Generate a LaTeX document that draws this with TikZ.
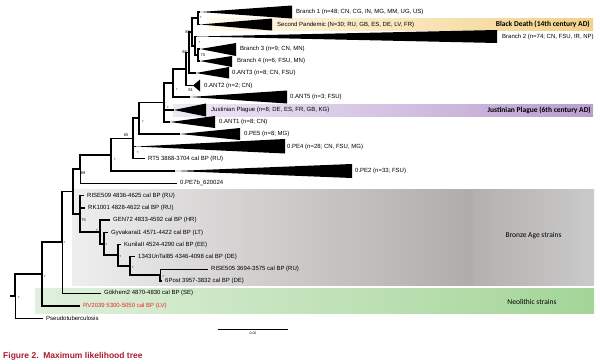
\documentclass[tikz,border=0pt]{standalone}
\usepackage{fontspec}
\setmainfont{Liberation Sans}
\newfontfamily\calibri{Carlito}
\usetikzlibrary{positioning}
\definecolor{bdL}{RGB}{255,250,236}
\definecolor{bdR}{RGB}{242,210,138}
\definecolor{jpL}{RGB}{238,232,245}
\definecolor{jpR}{RGB}{186,158,208}
\definecolor{baL}{RGB}{238,238,238}
\definecolor{baM}{RGB}{176,172,170}
\definecolor{baR}{RGB}{202,202,202}
\definecolor{neL}{RGB}{224,240,220}
\definecolor{neR}{RGB}{164,213,152}
\definecolor{rvred}{RGB}{232,40,40}
\definecolor{figred}{RGB}{170,28,44}
\tikzset{
  br/.style={line width=1.6pt},
  thinbr/.style={line width=0.9pt},
  tip/.style={anchor=west,inner xsep=3pt,inner ysep=0pt,font=\fontsize{6}{7}\selectfont},
  supp/.style={inner sep=0pt,font=\fontsize{4}{4}\selectfont},
  bandlbl/.style={inner sep=0pt,font=\calibri\fontsize{7.5}{8}\selectfont}
}
\newcommand\clade[4]{\fill (#1) -- (#2,#3) -- (#2,#4) -- cycle;}

\begin{document}
\begin{tikzpicture}[x=1pt,y=-1pt]
\useasboundingbox (0,0) rectangle (600,364);
\shade[left color=bdL,right color=bdR] (207,18.5) rectangle (593,30.5);
\shade[left color=jpL,right color=jpR] (173,104) rectangle (593,116);
\shade[left color=baL,right color=baM] (72,189) rectangle (473,285);
\shade[left color=baM!95!white,right color=baR] (473,189) rectangle (594,285);
\shade[left color=neL,right color=neR] (35,288) rectangle (594,313);
\node[bandlbl,anchor=east,font=\calibri\bfseries\fontsize{7.5}{8}\selectfont] (bd) at (590,24.5) {Black Death (14th century AD)};
\node[bandlbl,anchor=east,font=\calibri\bfseries\fontsize{7.5}{8}\selectfont] (jp) at (591,110) {Justinian Plague (6th century AD)};
\node[bandlbl] (ba) at (533.5,236) {Bronze Age strains};
\node[bandlbl] (ne) at (532,301.5) {Neolithic strains};

\coordinate (aB1) at (200,12);
\coordinate (aSP) at (200,24.5);
\coordinate (aB2) at (197,36.5);
\coordinate (aB3) at (200,49);
\coordinate (aB4) at (200,61);
\coordinate (aANT3) at (196,73);
\coordinate (aANT2) at (193,85.5);
\coordinate (aANT5) at (190,97);
\coordinate (aJust) at (174,110);
\coordinate (aANT1) at (170,122);
\coordinate (aPE5) at (180,134);
\coordinate (aPE4) at (136,146.5);
\coordinate (aPE2) at (175,171);

\clade{aB1}{292}{5.5}{18.5}
\clade{aSP}{272}{18.5}{30.5}
\clade{aB2}{497}{30}{43}
\clade{aB3}{236}{43}{56}
\clade{aB4}{232}{56}{67}
\clade{aANT3}{229}{67}{78.5}
\clade{aANT2}{200}{79.5}{91.5}
\clade{aANT5}{287}{90.5}{103.5}
\clade{aJust}{206}{103.5}{116.5}
\clade{aANT1}{215}{116}{128}
\clade{aPE5}{240}{128}{140}
\clade{aPE4}{285}{139}{153.5}
\clade{aPE2}{352}{164}{178}

\node[tip] (lB1) at (293,12) {Branch 1 (n=48; CN, CG, IN, MG, MM, UG, US)};
\node[tip] (lSP) at (274,24.5) {Second Pandemic (N=30; RU, GB, ES, DE, LV, FR)};
\node[tip] (lB2) at (499,36.5) {Branch 2 (n=74; CN, FSU, IR, NP)};
\node[tip] (lB3) at (237,49) {Branch 3 (n=9; CN, MN)};
\node[tip] (lB4) at (234,61) {Branch 4 (n=6; FSU, MN)};
\node[tip] (lANT3) at (229,73) {0.ANT3 (n=8; CN, FSU)};
\node[tip] (lANT2) at (201,85.5) {0.ANT2 (n=2; CN)};
\node[tip] (lANT5) at (287,97) {0.ANT5 (n=3; FSU)};
\node[tip] (lJust) at (208,110) {Justinian Plague (n=8; DE, ES, FR, GB, KG)};
\node[tip] (lANT1) at (216,122) {0.ANT1 (n=8; CN)};
\node[tip] (lPE5) at (241,134) {0.PE5 (n=8; MG)};
\node[tip] (lPE4) at (284,146.5) {0.PE4 (n=28; CN, FSU, MG)};
\node[tip] (lPE2) at (352,171) {0.PE2 (n=33; FSU)};

\node[tip] (tRT5) at (145,158.5) {RT5 3868-3704 cal BP (RU)};
\node[tip] (tPE7b) at (177,183) {0.PE7b\_620024};
\node[tip] (tRISE509) at (84,195.5) {RISE509 4836-4625 cal BP (RU)};
\node[tip] (tRK1001) at (85,208) {RK1001 4828-4622 cal BP (RU)};
\node[tip] (tGEN72) at (110,220) {GEN72 4833-4592 cal BP (HR)};
\node[tip] (tGyva) at (108,232.5) {Gyvakarai1 4571-4422 cal BP (LT)};
\node[tip] (tKunila) at (121,244.5) {KunilaII 4524-4290 cal BP (EE)};
\node[tip] (t1343) at (135,256.5) {1343UnTal85 4346-4098 cal BP (DE)};
\node[tip] (tRISE505) at (208,269) {RISE505 3694-3575 cal BP (RU)};
\node[tip] (t6Post) at (162,281) {6Post 3957-3832 cal BP (DE)};
\node[tip] (tGok) at (101,293) {Gökhem2 4870-4830 cal BP (SE)};
\node[tip,text=rvred] (tRV) at (80,306) {RV2039 5300-5050 cal BP (LV)};
\node[tip] (tPseudo) at (43,318) {Pseudotuberculosis};

\coordinate (nA) at (198,18.25);
\coordinate (nB) at (198,55);
\coordinate (nC) at (195,45.75);
\coordinate (nD) at (192,32);
\coordinate (nE) at (189,52.5);
\coordinate (nF) at (186,69);
\coordinate (nG) at (173,83);
\coordinate (nH) at (164,102.5);
\coordinate (nJ) at (139,118.25);
\coordinate (nM) at (133,138.4);
\coordinate (nL) at (111,154.7);
\coordinate (nN) at (80,168.85);
\coordinate (nBr) at (80,213.75);
\coordinate (nS) at (100,231.9);
\coordinate (nS2) at (104,243.8);
\coordinate (nT) at (118,255.1);
\coordinate (nU) at (130,265.75);
\coordinate (nV) at (160,275);
\coordinate (nO) at (73,191.3);
\coordinate (nP) at (62,242.15);
\coordinate (nQ) at (42,274.1);
\coordinate (root) at (15,296.05);
\coordinate (rstub) at (10,296.05);

\draw[br] (nA) |- (aB1);
\draw[br] (nA) |- (aSP);
\draw[br] (nB) |- (aB3);
\draw[br] (nB) |- (aB4);
\draw[br] (nC) |- (aB2);
\draw[br] (nC) |- (nB);
\draw[br] (nD) |- (nA);
\draw[br] (nD) |- (nC);
\draw[br] (nE) |- (nD);
\draw[br] (nE) |- (aANT3);
\draw[br] (nF) |- (nE);
\draw[br] (nF) |- (aANT2);
\draw[br] (nG) |- (nF);
\draw[br] (nG) |- (aANT5);
\draw[br] (nH) |- (nG);
\draw[br] (nH) |- (aJust);
\draw[br] (nH) |- (aANT1);
\draw[br] (nJ) |- (nH);
\draw[br] (nJ) |- (aPE5);
\draw[br] (nM) |- (nJ);
\draw[br] (nM) |- (aPE4);
\draw[br] (nM) |- (tRT5.west);
\draw[br] (nL) |- (nM);
\draw[br] (nL) |- (aPE2);
\draw[br] (nN) |- (nL);
\draw[thinbr] (nN) |- (tPE7b.west);
\draw[br] (nBr) |- (tRISE509.west);
\draw[br] (nBr) |- (tRK1001.west);
\draw[br] (nBr) |- (nS);
\draw[br] (nS) |- (tGEN72.west);
\draw[br] (nS) |- (nS2);
\draw[br] (nS2) |- (tGyva.west);
\draw[br] (nS2) |- (nT);
\draw[br] (nT) |- (tKunila.west);
\draw[br] (nT) |- (nU);
\draw[br] (nU) |- (t1343.west);
\draw[br] (nU) |- (nV);
\draw[thinbr] (nV) |- (tRISE505.west);
\draw[br] (nV) |- (t6Post.west);
\draw[br] (nO) |- (nN);
\draw[br] (nO) |- (nBr);
\draw[br] (nP) |- (nO);
\draw[thinbr] (nP) |- (tGok.west);
\draw[br] (nQ) |- (nP);
\draw[br] (nQ) |- (tRV.west);
\draw[br] (root) |- (nQ);
\draw[thinbr] (root) |- (tPseudo.west);
\draw[br] (rstub) -- (root);

\node[supp,right=2pt of nA] (sA) {*};
\node[supp,right=2.5pt of nB] (sB) {70};
\node[supp] (sC) at (199.5,43) {*};
\node[supp,left=2pt of nD] (sD) {88};
\node[supp,left=2pt of nE] (sE) {88};
\node[supp] (sF) at (190.5,90.5) {91};
\node[supp] (sG) at (177,90) {*};
\node[supp] (sH) at (168,108) {*};
\node[supp] (sJ) at (143,122) {*};
\node[supp] (sM) at (126,135) {65};
\node[supp] (sM2) at (138,153) {*};
\node[supp] (sL) at (115,160) {*};
\node[supp] (sN) at (83,173) {89};
\node[supp] (sBr) at (83.5,220) {75};
\node[supp] (sS) at (97,231) {*};
\node[supp] (sS2) at (106.5,245) {*};
\node[supp] (sT) at (120.5,257) {*};
\node[supp] (sU) at (133,268) {*};
\node[supp] (sV) at (163.5,277.5) {*};
\node[supp] (sP) at (64.5,243.5) {*};
\node[supp] (sQ) at (45,277) {*};
\node[supp] (sR) at (19,298) {*};

\coordinate (sb1) at (218,329.5);
\coordinate (sb2) at (288,329.5);
\draw[line width=0.6pt] (sb1) -- (sb2) node[midway,below=2.5pt,inner sep=0pt,font=\fontsize{3.5}{4}\selectfont] (sbl) {0.02};

\node[anchor=west,inner sep=0pt,text=figred,font=\bfseries\fontsize{8.5}{10}\selectfont] (cap) at (3,356) {Figure 2.\ \ Maximum likelihood tree};
\end{tikzpicture}
\end{document}
